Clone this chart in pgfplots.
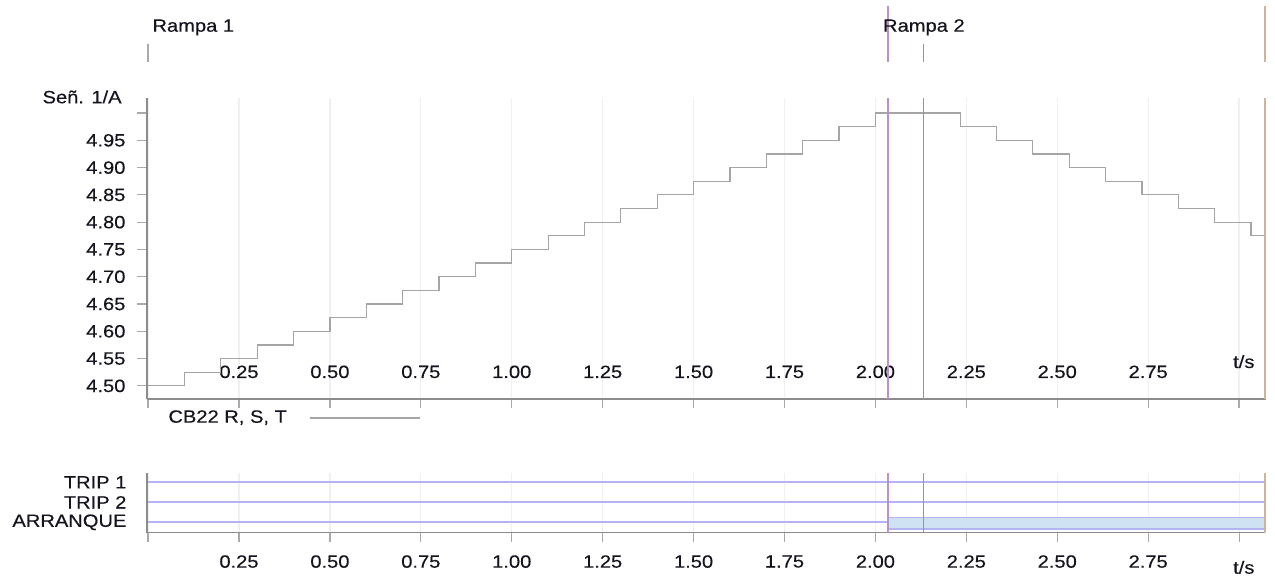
\documentclass[border=0pt]{standalone}
\usepackage{fontspec}
\setmainfont{Liberation Sans}[FakeStretch=1.13, FakeBold=0.35]
\usepackage{pgfplots}
\pgfplotsset{compat=1.18}
\definecolor{stepc}{RGB}{165,165,165}
\definecolor{purp}{RGB}{185,145,205}
\definecolor{brownc}{RGB}{205,180,155}
\definecolor{markc}{RGB}{150,150,150}
\definecolor{axisgray}{RGB}{140,140,140}
\definecolor{tickgray}{RGB}{170,170,170}
\definecolor{gridc}{RGB}{240,240,240}
\definecolor{sigc}{RGB}{180,180,245}
\definecolor{fillc}{RGB}{207,226,243}
\definecolor{labelc}{RGB}{20,20,30}
\newcommand{\lbl}{\fontsize{8.9}{10}\selectfont}
\pgfplotsset{
  base/.style={
    scale only axis, width=559.5pt,
    xmin=-0.003, xmax=3.074, clip=false,
    axis line style={draw=axisgray, line width=0.8pt},
    tick style={draw=tickgray, line width=0.6pt},
    tick align=outside, major tick length=4.75pt,
    ticklabel style={font=\lbl, text=labelc},
    label style={font=\lbl, text=labelc},
    xmajorgrids, grid style={draw=gridc, line width=0.6pt},
  }
}
\begin{document}
\begin{tikzpicture}
\path[use as bounding box] (0,0) rectangle (637.5pt,288.5pt);

% top strip
\begin{axis}[base, at={(73.5pt,257.5pt)}, anchor=south west, height=28pt,
  ymin=0, ymax=1, axis lines=none, xmajorgrids=false]
  \addplot[draw=tickgray, line width=0.6pt] coordinates {(0,0) (0,0.32)};
  \addplot[draw=markc, line width=0.6pt] coordinates {(2.133,0) (2.133,0.32)};
  \addplot[draw=purp, line width=1pt] coordinates {(2.035,0) (2.035,1)};
  \addplot[draw=brownc, line width=1pt] coordinates {(3.072,0) (3.072,1)};
  \node[anchor=base west, font=\lbl, text=labelc, inner sep=0pt] at (axis cs:0.011,0.541) {Rampa 1};
  \node[anchor=base west, font=\lbl, text=labelc, inner sep=0pt] at (axis cs:2.020,0.541) {Rampa 2};
\end{axis}

% main axis
\begin{axis}[base, at={(73.5pt,89pt)}, anchor=south west, height=150.35pt,
  ymin=4.476, ymax=5.027,
  axis x line*=bottom, axis y line*=left,
  xtick={0,0.25,0.5,0.75,1,1.25,1.5,1.75,2,2.25,2.5,2.75,3},
  xticklabels={,0.25,0.50,0.75,1.00,1.25,1.50,1.75,2.00,2.25,2.50,2.75,},
  ytick={4.5,4.55,4.6,4.65,4.7,4.75,4.8,4.85,4.9,4.95,5.0},
  yticklabels={4.50,4.55,4.60,4.65,4.70,4.75,4.80,4.85,4.90,4.95,},
  xticklabel style={anchor=base, yshift=15.25pt},
  yticklabel style={xshift=-2.5pt},
  legend plot pos=right,
  legend style={draw=none, fill=none, at={(0.0188,-0.0632)}, anchor=west,
    font=\lbl, text=labelc, inner sep=0pt, column sep=11pt,
    nodes={inner sep=0pt}},
  legend image code/.code={\draw[stepc, line width=0.6pt] (0pt,0pt) -- (55pt,0pt);},
]
  \addplot[const plot, draw=stepc, line width=0.6pt] coordinates {
    (0,4.5) (0.1,4.525) (0.2,4.55) (0.3,4.575) (0.4,4.6) (0.5,4.625)
    (0.6,4.65) (0.7,4.675) (0.8,4.7) (0.9,4.725) (1.0,4.75) (1.1,4.775)
    (1.2,4.8) (1.3,4.825) (1.4,4.85) (1.5,4.875) (1.6,4.9) (1.7,4.925)
    (1.8,4.95) (1.9,4.975) (2.0,5.0) (2.235,4.975) (2.333,4.95) (2.433,4.925)
    (2.533,4.9) (2.633,4.875) (2.733,4.85) (2.833,4.825) (2.933,4.8)
    (3.033,4.775) (3.072,4.775)};
  \addlegendentry{CB22 R, S, T}
  \addplot[draw=purp, line width=1pt, forget plot] coordinates {(2.035,4.476) (2.035,5.027)};
  \addplot[draw=markc, line width=0.6pt, forget plot] coordinates {(2.133,4.476) (2.133,5.027)};
  \addplot[draw=brownc, line width=1pt, forget plot] coordinates {(3.072,4.476) (3.072,5.027)};
  \node[anchor=base east, font=\lbl, text=labelc, inner sep=0pt] at (rel axis cs:0,1) [xshift=-12.5pt, yshift=-2.5pt] {Señ. 1/A};
  \node[anchor=base, font=\lbl, text=labelc, inner sep=0pt] at (axis cs:3.013,4.476) [yshift=15.5pt] {t/s};
\end{axis}

% bottom strip
\begin{axis}[base, at={(73.5pt,22.15pt)}, anchor=south west, height=29.85pt,
  ymin=0.48, ymax=3.465,
  axis x line*=bottom, axis y line*=left,
  xtick={0,0.25,0.5,0.75,1,1.25,1.5,1.75,2,2.25,2.5,2.75,3},
  xticklabels={,0.25,0.50,0.75,1.00,1.25,1.50,1.75,2.00,2.25,2.50,2.75,},
  ytick={1,2,3}, yticklabels={ARRANQUE,TRIP 2,TRIP 1},
  ytick style={draw=none},
  xticklabel style={yshift=-3pt},
  yticklabel style={xshift=-2pt},
]
  \addplot[draw=sigc, line width=0.8pt] coordinates {(0,3) (3.072,3)};
  \addplot[draw=sigc, line width=0.8pt] coordinates {(0,2) (3.072,2)};
  \addplot[draw=sigc, line width=0.8pt] coordinates {(0,1) (2.035,1)};
  \addplot[draw=sigc, fill=fillc, line width=0.8pt] coordinates {(2.035,0.65) (3.072,0.65) (3.072,1.23) (2.035,1.23)} -- cycle;
  \addplot[draw=purp, line width=1pt] coordinates {(2.035,0.48) (2.035,3.465)};
  \addplot[draw=markc, line width=0.6pt] coordinates {(2.133,0.48) (2.133,3.465)};
  \addplot[draw=brownc, line width=1pt] coordinates {(3.072,0.48) (3.072,3.465)};
  \node[anchor=base, font=\lbl, text=labelc, inner sep=0pt] at (axis cs:3.013,0.48) [yshift=-20.5pt] {t/s};
\end{axis}
\end{tikzpicture}
\end{document}
